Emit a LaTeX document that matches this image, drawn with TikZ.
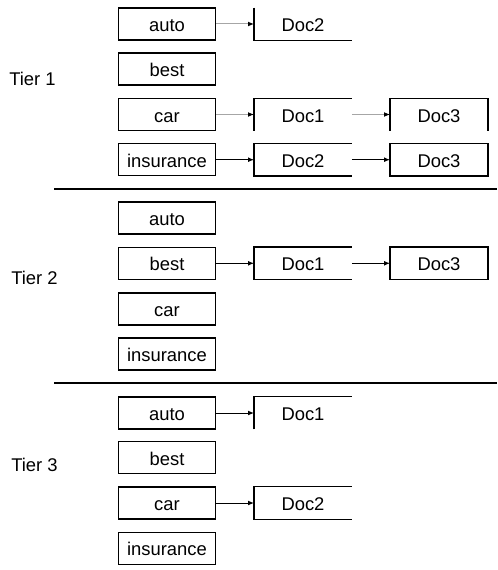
\documentclass[tikz,border=0pt]{standalone}
\usepackage{fontspec}
\setmainfont{Liberation Sans}
\usetikzlibrary{arrows.meta}
\begin{document}
\begin{tikzpicture}[x=0.75pt,y=-0.75pt,
  every node/.style={font=\fontsize{13.8}{16}\selectfont, inner sep=0pt},
  term/.style={draw=black, line width=0.9pt, minimum width=72.75pt, minimum height=24pt, text height=11.4pt, text depth=0pt},
  docbox/.style={minimum width=73pt, minimum height=24pt, text height=11.4pt, text depth=0pt},
  side/.style={line width=0.9pt, black},
  arr/.style={line width=0.75pt, -{Latex[length=4.5pt,width=3.6pt,black]}},
  garr/.style={arr, draw=black!35},
  sep/.style={line width=0.9pt, black},
  tier/.style={anchor=west}]
\useasboundingbox (0,0) rectangle (497,570);
% separators
\coordinate (s1a) at (54,189); \coordinate (s1b) at (497,189);
\coordinate (s2a) at (54,383); \coordinate (s2b) at (497,383);
\draw[sep] (s1a) -- (s1b);
\draw[sep] (s2a) -- (s2b);
% tier labels
\node[tier] (t1) at (9,78.5) {Tier 1};
\node[tier] (t2) at (11,277.5) {Tier 2};
\node[tier] (t3) at (11,465) {Tier 3};
% Tier 1
\node[term] (a1) at (167,24) {auto};
\node[term] (b1) at (167,69) {best};
\node[term] (c1) at (167,114.5) {car};
\node[term] (i1) at (167,159.7) {insurance};
\node[docbox] (a1d2) at (303,24) {Doc2};
\node[docbox] (c1d1) at (303,114.5) {Doc1};
\node[docbox] (c1d3) at (439,114.5) {Doc3};
\node[docbox] (i1d2) at (303,159.7) {Doc2};
\node[docbox] (i1d3) at (439,159.7) {Doc3};
\draw[side] (a1d2.north west) -- (a1d2.south west) -- (a1d2.south east);
\draw[side] (c1d1.south west) -- (c1d1.north west) -- (c1d1.north east);
\draw[side] (c1d3.south west) -- (c1d3.north west) -- (c1d3.north east) -- (c1d3.south east);
\draw[side] (i1d2.north east) -- (i1d2.north west) -- (i1d2.south west) -- (i1d2.south east);
\draw[side] (i1d3.north west) rectangle (i1d3.south east);
\draw[garr] (a1) -- (a1d2);
\draw[garr] (c1) -- (c1d1);
\draw[garr] (c1d1) -- (c1d3);
\draw[arr] (i1) -- (i1d2);
\draw[arr] (i1d2) -- (i1d3);
% Tier 2
\node[term] (a2) at (167,218) {auto};
\node[term] (b2) at (167,263.3) {best};
\node[term] (c2) at (167,309) {car};
\node[term] (i2) at (167,354) {insurance};
\node[docbox] (b2d1) at (303,263.3) {Doc1};
\node[docbox] (b2d3) at (439,263.3) {Doc3};
\draw[side] (b2d1.north east) -- (b2d1.north west) -- (b2d1.south west) -- (b2d1.south east);
\draw[side] (b2d3.north west) rectangle (b2d3.south east);
\draw[arr] (b2) -- (b2d1);
\draw[arr] (b2d1) -- (b2d3);
% Tier 3
\node[term] (a3) at (167,413) {auto};
\node[term] (b3) at (167,457.7) {best};
\node[term] (c3) at (167,503) {car};
\node[term] (i3) at (167,548.3) {insurance};
\node[docbox] (a3d1) at (303,413) {Doc1};
\node[docbox] (c3d2) at (303,503) {Doc2};
\draw[side] (a3d1.south west) -- (a3d1.north west) -- (a3d1.north east);
\draw[side] (c3d2.north east) -- (c3d2.north west) -- (c3d2.south west) -- (c3d2.south east);
\draw[arr] (a3) -- (a3d1);
\draw[arr] (c3) -- (c3d2);
\end{tikzpicture}
\end{document}
